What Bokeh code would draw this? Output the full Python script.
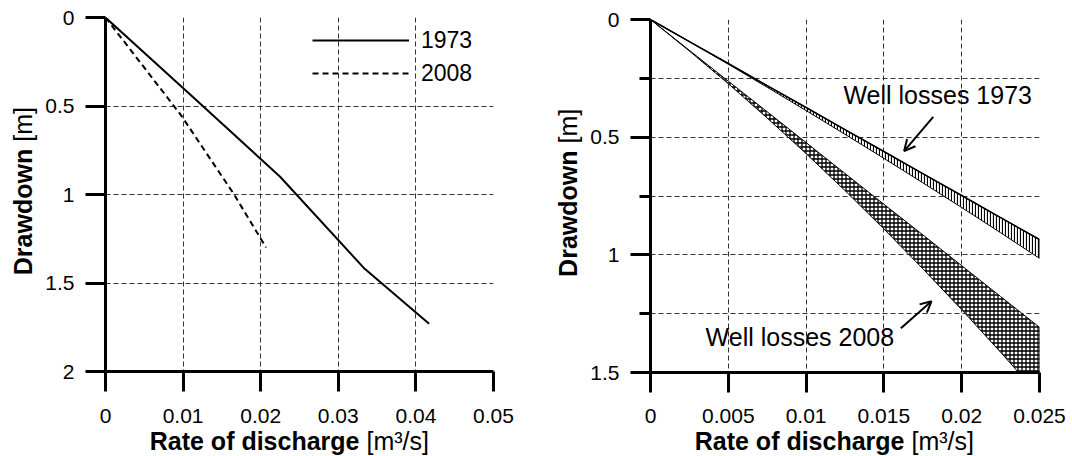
from bokeh.plotting import figure
from bokeh.layouts import row, column
from bokeh.models import (Range1d, FixedTicker, CustomJSTickFormatter, Legend,
                          LegendItem, Label, Arrow, OpenHead)
from bokeh.embed import file_html
from bokeh.resources import INLINE

FONT = "Liberation Sans"
TITLE_SIZE = "25px"

# Step-drawdown tests: rate of discharge [m3/s] vs drawdown [m]
q_1973 = [0.0, 0.0113, 0.0225, 0.0334, 0.0417]
s_1973 = [0.0, 0.45, 0.90, 1.42, 1.73]
q_2008 = [0.0, 0.0097, 0.0165, 0.0207]
s_2008 = [0.0, 0.55, 0.995, 1.30]

# Aquifer-loss line and total drawdown curve; the gap between them is the well loss
q_grid = [0.0, 0.0025, 0.005, 0.0075, 0.01, 0.0125, 0.015, 0.0175, 0.02, 0.0225, 0.025]
aquifer_1973 = [0.0, 0.094, 0.187, 0.281, 0.374, 0.468, 0.561, 0.655, 0.748, 0.842, 0.935]
total_1973 = [0.0, 0.094, 0.190, 0.288, 0.387, 0.488, 0.590, 0.694, 0.799, 0.906, 1.015]
aquifer_2008 = [0.0, 0.131, 0.262, 0.392, 0.523, 0.654, 0.785, 0.915, 1.046, 1.177, 1.308]
total_2008 = [0.0, 0.134, 0.273, 0.419, 0.570, 0.727, 0.890, 1.059, 1.233, 1.414, 1.600]

left_x_ticks = [0, 0.01, 0.02, 0.03, 0.04, 0.05]
left_y_ticks = [0, 0.5, 1, 1.5, 2]
right_x_ticks = [0, 0.005, 0.01, 0.015, 0.02, 0.025]
right_y_ticks = [0, 0.5, 1, 1.5]
right_y_minor = [0.25, 0.75, 1.25]

PLOT_H = 426      # plot figure height; the axis titles sit in a strip below
STRIP_H = 456 - PLOT_H


def style(p, xticks, yticks, yminor=None, x_standoff=15):
    p.xaxis.ticker = FixedTicker(ticks=xticks)
    p.yaxis.ticker = FixedTicker(ticks=yticks, minor_ticks=yminor or [])
    for ax in (p.xaxis[0], p.yaxis[0]):
        ax.formatter = CustomJSTickFormatter(code="return String(tick);")
        ax.axis_line_width = 3
        ax.axis_line_color = "black"
        ax.major_tick_line_width = 3
        ax.major_tick_line_color = "black"
        ax.major_tick_in = 0
        ax.major_tick_out = 20
        ax.minor_tick_line_width = 3
        ax.minor_tick_line_color = "black"
        ax.minor_tick_in = 0
        ax.minor_tick_out = 11
        ax.major_label_text_font = FONT
        ax.major_label_text_font_size = "21px"
        ax.major_label_text_color = "black"
    p.xaxis[0].major_label_standoff = x_standoff
    p.yaxis[0].major_label_standoff = 11
    for g in (p.xgrid[0], p.ygrid[0]):
        g.grid_line_color = "#333333"
        g.grid_line_width = 1
        g.grid_line_dash = "5 3"
    if yminor:
        p.ygrid[0].minor_grid_line_color = "#333333"
        p.ygrid[0].minor_grid_line_width = 1
        p.ygrid[0].minor_grid_line_dash = "5 3"
    p.outline_line_color = None
    p.background_fill_color = "white"
    p.border_fill_color = "white"


def strip(width, height):
    s = figure(width=width, height=height, x_range=Range1d(0, 1), y_range=Range1d(0, 1),
               x_axis_location=None, y_axis_location=None, output_backend="svg",
               toolbar_location=None, min_border=0)
    s.grid.visible = False
    s.outline_line_color = None
    s.background_fill_color = "white"
    s.border_fill_color = "white"
    return s


def x_title(width, split):
    # bold quantity name followed by the unit in regular weight
    s = strip(width, STRIP_H)
    s.add_layout(Label(x=split, y=15.4, x_units="screen", y_units="screen",
                       text="Rate of discharge", text_font=FONT, text_font_style="bold",
                       text_font_size=TITLE_SIZE, text_color="black",
                       text_align="right", text_baseline="alphabetic"))
    s.add_layout(Label(x=split + 7, y=15.4, x_units="screen", y_units="screen",
                       text="[m\u00b3/s]", text_font=FONT, text_font_size=TITLE_SIZE,
                       text_color="black", text_align="left", text_baseline="alphabetic"))
    return s


def y_title(width, base_x, split):
    s = strip(width, 456)
    s.add_layout(Label(x=base_x, y=split, x_units="screen", y_units="screen",
                       text="Drawdown", text_font=FONT, text_font_style="bold",
                       text_font_size=TITLE_SIZE, text_color="black",
                       text_align="right", text_baseline="alphabetic", angle=1.5707963))
    s.add_layout(Label(x=base_x, y=split + 7, x_units="screen", y_units="screen",
                       text="[m]", text_font=FONT, text_font_size=TITLE_SIZE,
                       text_color="black", text_align="left", text_baseline="alphabetic",
                       angle=1.5707963))
    return s


# ---- left panel: drawdown curves ----
p1 = figure(width=498, height=PLOT_H, x_range=Range1d(0, 0.05), y_range=Range1d(2, 0),
            output_backend="svg", toolbar_location=None,
            min_border_left=67, min_border_right=43, min_border_top=17,
            min_border_bottom=PLOT_H - 371)
style(p1, left_x_ticks, left_y_ticks, x_standoff=17)

r73 = p1.line(q_1973, s_1973, line_color="black", line_width=2)
r08 = p1.line(q_2008, s_2008, line_color="black", line_width=2, line_dash="6 4")

legend = Legend(items=[LegendItem(label="1973", renderers=[r73]),
                       LegendItem(label="2008", renderers=[r08])],
                location="top_right", margin=8, padding=0, spacing=3,
                glyph_width=97, glyph_height=30, label_height=30, label_width=64,
                label_standoff=12, label_text_font=FONT, label_text_font_size="23px",
                label_text_color="black", border_line_color=None,
                background_fill_alpha=0)
p1.add_layout(legend)

# ---- right panel: well losses ----
p2 = figure(width=489, height=PLOT_H, x_range=Range1d(0, 0.025), y_range=Range1d(1.5, 0),
            output_backend="svg", toolbar_location=None,
            min_border_left=67, min_border_right=33, min_border_top=19,
            min_border_bottom=PLOT_H - 372)
style(p2, right_x_ticks, right_y_ticks, right_y_minor, x_standoff=16)

band_q = q_grid + q_grid[::-1]
p2.patch(band_q, aquifer_2008 + total_2008[::-1], fill_color="white", line_color="black",
         line_width=1, hatch_pattern="cross", hatch_scale=4, hatch_weight=1.3,
         hatch_color="black")
p2.patch(band_q, aquifer_1973 + total_1973[::-1], fill_color="white", line_color="black",
         line_width=1, hatch_pattern="vertical_line", hatch_scale=3, hatch_weight=1.2,
         hatch_color="black")
p2.line(q_grid, aquifer_1973, line_color="black", line_width=1.6)

p2.add_layout(Label(x=0.0124, y=0.319, text="Well losses 1973", text_font=FONT,
                    text_font_size="25px", text_color="black", text_baseline="alphabetic"))
p2.add_layout(Arrow(x_start=0.01817, y_start=0.414, x_end=0.0163, y_end=0.559,
                    line_width=2, line_color="black",
                    end=OpenHead(size=11, line_width=2, line_color="black")))
p2.add_layout(Label(x=0.00354, y=1.349, text="Well losses 2008", text_font=FONT,
                    text_font_size="25px", text_color="black", text_baseline="alphabetic"))
p2.add_layout(Arrow(x_start=0.01609, y_start=1.312, x_end=0.01806, y_end=1.197,
                    line_width=2, line_color="black",
                    end=OpenHead(size=11, line_width=2, line_color="black")))

layout = row(
    y_title(38, 22.7, 307.7),
    column(p1, x_title(498, 254)),
    y_title(47, 31.7, 306),
    column(p2, x_title(489, 254)),
)
open("out.html", "w").write(file_html(layout, INLINE))
